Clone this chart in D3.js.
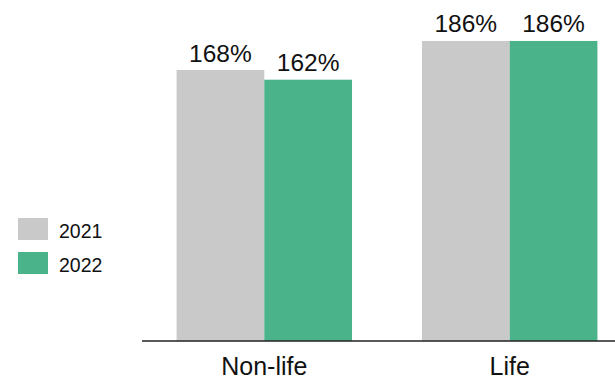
<!DOCTYPE html>
<html>
<head>
<meta charset="utf-8">
<script src="https://cdn.jsdelivr.net/npm/d3@7"></script>
<style>
  html, body { margin: 0; padding: 0; background: #fff; }
  svg { display: block; font-family: "Liberation Sans", Arial, sans-serif; }
</style>
</head>
<body>
<svg id="chart" width="615" height="380"></svg>
<script>
// Solvency ratios by line of business
const categories = ["Non-life", "Life"];
const years = ["2021", "2022"];
const values2021 = [168, 186];
const values2022 = [162, 186];
const colors = ["#c9c9c9", "#4ab38a"];

const rows = categories.map((c, i) => ({
  category: c,
  values: [
    { year: years[0], value: values2021[i] },
    { year: years[1], value: values2022[i] }
  ]
}));

const svg = d3.select("#chart");
const baseY = 341;

const x0 = d3.scaleBand()
  .domain(categories)
  .range([141.6, 632.4])
  .paddingInner(0.285)
  .paddingOuter(0.1425);

const x1 = d3.scaleBand()
  .domain(years)
  .range([0, x0.bandwidth()]);

const y = d3.scaleLinear()
  .domain([0, 200])
  .range([baseY, baseY - 322.6]);

const color = d3.scaleOrdinal().domain(years).range(colors);

const groups = svg.selectAll("g.cat")
  .data(rows)
  .join("g")
  .attr("class", "cat")
  .attr("transform", d => `translate(${x0(d.category)},0)`);

groups.selectAll("rect")
  .data(d => d.values)
  .join("rect")
  .attr("x", d => x1(d.year))
  .attr("y", d => y(d.value))
  .attr("width", x1.bandwidth())
  .attr("height", d => y(0) - y(d.value))
  .attr("fill", d => color(d.year));

groups.selectAll("text.val")
  .data(d => d.values)
  .join("text")
  .attr("class", "val")
  .attr("x", d => x1(d.year) + x1.bandwidth() / 2)
  .attr("y", d => y(d.value) - 8.5)
  .attr("text-anchor", "middle")
  .attr("font-size", 24.5)
  .attr("fill", "#111")
  .text(d => d.value + "%");

// Category axis
const xAxis = svg.append("g")
  .attr("transform", `translate(0,${baseY})`)
  .call(d3.axisBottom(x0).tickSize(0).tickPadding(16));
xAxis.select(".domain")
  .attr("d", "M142,0H615")
  .attr("stroke", "#222")
  .attr("stroke-width", 1.6);
xAxis.selectAll("text")
  .attr("font-size", 25)
  .attr("font-family", "Liberation Sans, Arial, sans-serif")
  .attr("fill", "#111")
  .attr("dy", "0.71em");

// Legend
const legend = svg.append("g").attr("transform", "translate(18,218)");
const items = legend.selectAll("g")
  .data(years)
  .join("g")
  .attr("transform", (d, i) => `translate(0,${i * 34})`);
items.append("rect")
  .attr("width", 30)
  .attr("height", 22)
  .attr("fill", d => color(d));
items.append("text")
  .attr("x", 41)
  .attr("y", 19.5)
  .attr("font-size", 19.5)
  .attr("fill", "#111")
  .text(d => d);
</script>
</body>
</html>
